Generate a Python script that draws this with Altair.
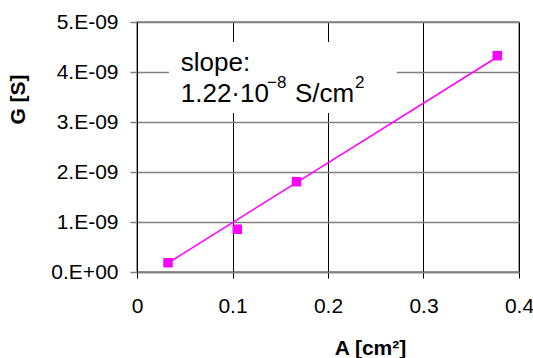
import json
import altair as alt
import pandas as pd

# measured points
area = [0.0325, 0.105, 0.167, 0.3773]
conductance = [0.186e-9, 0.854e-9, 1.806e-9, 4.326e-9]

# fitted line end points
fit_area = [0.0325, 0.3773]
fit_conductance = [0.18e-9, 4.30e-9]

# axis ticks and labels
x_ticks = [0, 0.1, 0.2, 0.3, 0.4]
x_tick_labels = ["0", "0.1", "0.2", "0.3", "0.4"]
y_ticks = [0, 1e-9, 2e-9, 3e-9, 4e-9, 5e-9]
y_tick_labels = ["0.E+00", "1.E-09", "2.E-09", "3.E-09", "4.E-09", "5.E-09"]

# annotation pieces (text, anchor in data units, font size)
note_text = ["slope:", "1.22·10", "−8", "S/cm", "2"]
note_x = [0.0458, 0.0458, 0.1361, 0.1654, 0.2283]
note_y = [4.026e-9, 3.406e-9, 3.674e-9, 3.406e-9, 3.674e-9]
note_size = [26, 26, 17, 26, 17]
box_x = [0.0335]
box_x2 = [0.272]
box_y = [3.18e-9]
box_y2 = [4.6e-9]

FONT = "Liberation Sans"
MAGENTA = "#FF00FF"

pts = pd.DataFrame({"A": area, "G": conductance})
fit = pd.DataFrame({"A": fit_area, "G": fit_conductance})
notes = pd.DataFrame({"A": note_x, "G": note_y, "t": note_text, "fs": note_size})
box = pd.DataFrame({"A": box_x, "A2": box_x2, "G": box_y, "G2": box_y2})

xscale = alt.Scale(domain=[0, 0.4], nice=False, zero=True)
yscale = alt.Scale(domain=[0, 5e-9], nice=False, zero=True)

x_axis = alt.Axis(
    values=x_ticks,
    labelExpr=f"{json.dumps(x_tick_labels)}[round(datum.value*10)]",
    title="A [cm²]",
    titleFont=FONT, titleFontSize=21, titleFontWeight="bold", titleColor="black",
    titleX=233, titleY=82, titleAlign="center", titleBaseline="alphabetic",
    labelFont=FONT, labelFontSize=21, labelColor="black", labelPadding=17,
    labelFlush=False, labelOverlap=False,
    grid=True, gridColor="black", gridWidth=1, gridOpacity=1,
    domain=True, domainColor="#808080", domainWidth=1.5,
    ticks=True, tickColor="black", tickSize=6, tickWidth=1,
)
y_axis = alt.Axis(
    values=y_ticks,
    labelExpr=f"{json.dumps(y_tick_labels)}[round(datum.value*1e9)]",
    title="G [S]",
    titleFont=FONT, titleFontSize=21, titleFontWeight="bold", titleColor="black",
    titleX=-118.5, titleY=77, titleAlign="center", titleBaseline="middle",
    labelFont=FONT, labelFontSize=21, labelColor="black", labelPadding=12,
    labelOverlap=False, labelFlush=False,
    grid=True, gridColor="#808080", gridWidth=1.5, gridOpacity=1,
    domain=True, domainColor="black", domainWidth=1,
    ticks=True, tickColor="#808080", tickSize=7, tickWidth=1.5,
)

base_x = alt.X("A:Q", scale=xscale, axis=x_axis)
base_y = alt.Y("G:Q", scale=yscale, axis=y_axis)

rect = alt.Chart(box).mark_rect(fill="white").encode(
    x=base_x,
    x2="A2:Q",
    y=base_y,
    y2="G2:Q",
)

line = alt.Chart(fit).mark_line(color=MAGENTA, strokeWidth=1.5).encode(
    x=base_x, y=base_y
)

points = alt.Chart(pts).mark_point(
    shape="square", filled=True, color=MAGENTA, size=90, opacity=1
).encode(x=base_x, y=base_y)

text = alt.Chart(notes).mark_text(
    font=FONT, color="black", align="left", baseline="alphabetic"
).encode(
    x=base_x, y=base_y, text="t:N",
    size=alt.Size("fs:Q", scale=None, legend=None),
)

chart = (
    alt.layer(rect, line, points, text)
    .properties(
        width=382,
        height=250,
        autosize=alt.AutoSizeParams(type="none"),
        padding={"left": 137, "top": 22, "right": 14, "bottom": 86},
        background="white",
    )
    .configure_view(stroke="#808080", strokeWidth=1.5)
)

chart.save("out.html", embed_options={"renderer": "svg", "actions": False})
